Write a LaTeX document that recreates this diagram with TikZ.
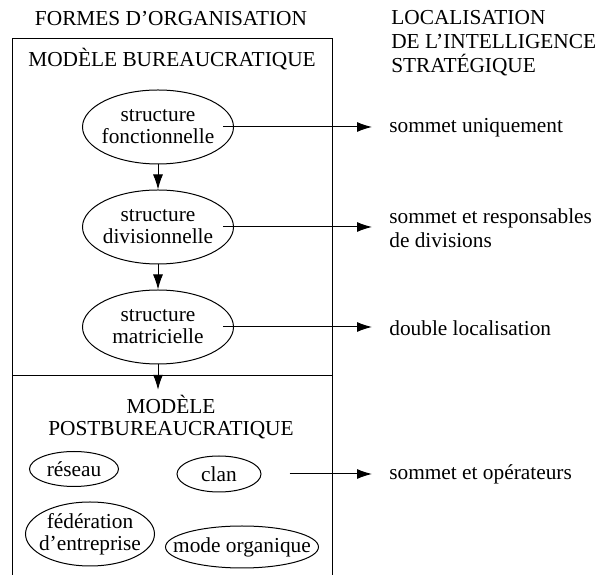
\documentclass[tikz,border=0pt]{standalone}
\usepackage{fontspec}
\setmainfont{Liberation Serif}
\usetikzlibrary{arrows.meta,calc,positioning,shapes}

\begin{document}
\begin{tikzpicture}[x=0.6pt,y=-0.6pt,>={Latex[length=9pt,width=6pt]},font=\fontsize{12.8}{13.2}\selectfont]
	\tikzstyle{forme} = [draw, ellipse, line width=0.6pt, inner sep=-15pt, align=center]
	\tikzstyle{titre} = [inner sep=3pt, align=center]
	\tikzstyle{lieu} = [anchor=west, inner sep=0pt, align=left]
	\tikzstyle{fleche} = [->, line width=0.6pt]

	\useasboundingbox (0,0) rectangle (600,575);

	% cadre des formes d'organisation
	\draw [line width=0.6pt] (12,575) |- (332,39) -- (332,575);
	\draw [line width=0.6pt] (12,376) -- (332,376);

	\node [titre] (formes) at (171,19) {FORMES D’ORGANISATION};
	\node [lieu, font=\fontsize{12.8}{14.4}\selectfont] (localisation) at (391,43) {LOCALISATION\\DE L’INTELLIGENCE\\STRATÉGIQUE};
	\node [titre] (bureau) at (172,59) {MODÈLE BUREAUCRATIQUE};

	\foreach \y/\nom/\txt in {127/fonc/fonctionnelle, 227/divi/divisionnelle, 327/matr/matricielle}
		{ \node [forme, minimum width=90.6pt, minimum height=44.4pt] (\nom) at (158,\y) {structure\\\txt};}

	\draw [fleche] (fonc) -- (divi);
	\draw [fleche] (divi) -- (matr);

	\node [lieu] (sommet) at (389,128) {sommet uniquement};
	\node [lieu, font=\fontsize{12.8}{14.4}\selectfont] (resp) at (389,228) {sommet et responsables\\de divisions};
	\node [lieu] (double) at (389,328) {double localisation};

	\foreach \a/\b in {fonc/sommet, divi/resp, matr/double}
		\draw [fleche] ($(\a.east)+(-11,0)$) -- ($(\a.east -| \b.west)+(-17,0)$);

	% modele postbureaucratique
	\node [titre] (post) at (171,417) {MODÈLE\\POSTBUREAUCRATIQUE};
	\draw [fleche] (matr) -- (matr.south |- post.north);

	\node [forme, minimum width=53.4pt, minimum height=21pt] (reseau) at (74,469) {réseau};
	\node [forme, minimum width=50.4pt, minimum height=21.6pt] (clan) at (219,474) {clan};
	\node [forme, minimum width=77.4pt, minimum height=38.4pt] (federation) at (90,534) {fédération\\d’entreprise};
	\node [forme, minimum width=91.8pt, minimum height=25.2pt] (organique) at (242,547) {mode organique};

	\node [lieu] (oper) at (389,474) {sommet et opérateurs};
	\draw [fleche] ($(clan.east)+(28,0)$) -- ($(clan.east -| oper.west)+(-17,0)$);
\end{tikzpicture}
\end{document}
